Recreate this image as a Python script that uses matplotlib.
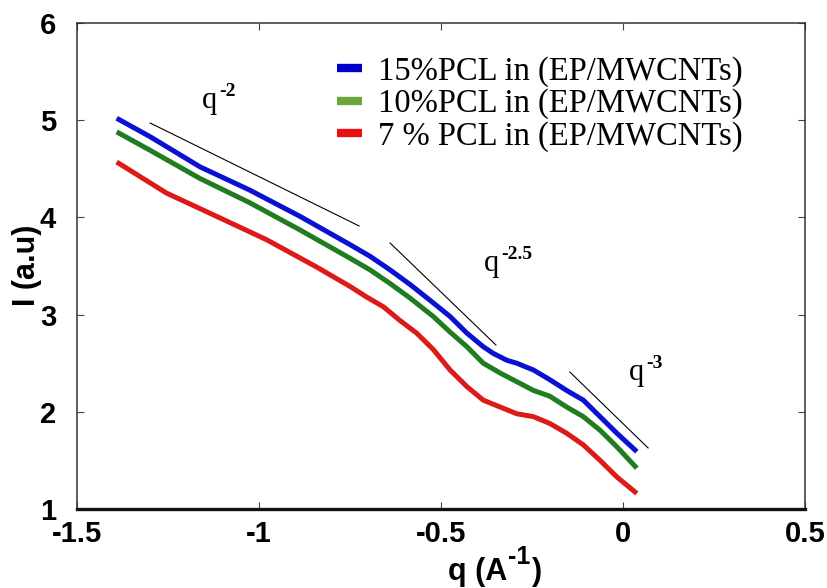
import matplotlib
matplotlib.use('Agg')
import matplotlib.pyplot as plt
from matplotlib.lines import Line2D

plt.rcParams['axes.unicode_minus'] = False

q_blue = [-1.391, -1.299, -1.162, -1.025, -0.887, -0.750, -0.695, -0.640, -0.585, -0.521, -0.475,
          -0.429, -0.384, -0.356, -0.319, -0.292, -0.246, -0.201, -0.155, -0.109, -0.063, -0.017, 0.038]
i_blue = [5.02, 4.83, 4.52, 4.28, 4.01, 3.72, 3.60, 3.46, 3.31, 3.12, 2.98,
          2.81, 2.67, 2.60, 2.53, 2.50, 2.43, 2.33, 2.22, 2.12, 1.95, 1.78, 1.59]

q_green = [-1.391, -1.299, -1.162, -1.025, -0.887, -0.750, -0.695, -0.640, -0.585, -0.521, -0.475,
           -0.429, -0.384, -0.338, -0.292, -0.246, -0.201, -0.155, -0.109, -0.063, -0.017, 0.038]
i_green = [4.88, 4.69, 4.40, 4.15, 3.87, 3.58, 3.46, 3.32, 3.17, 2.98, 2.82,
           2.67, 2.50, 2.40, 2.31, 2.22, 2.16, 2.05, 1.95, 1.81, 1.64, 1.42]

q_red = [-1.391, -1.254, -1.116, -0.979, -0.842, -0.750, -0.704, -0.658, -0.613, -0.567, -0.521,
         -0.475, -0.429, -0.384, -0.338, -0.292, -0.246, -0.201, -0.155, -0.109, -0.063, -0.017, 0.038]
i_red = [4.57, 4.25, 4.01, 3.77, 3.49, 3.29, 3.18, 3.08, 2.94, 2.81, 2.64,
         2.43, 2.26, 2.12, 2.05, 1.98, 1.95, 1.88, 1.78, 1.66, 1.50, 1.33, 1.16]

series_labels = ['15%PCL in (EP/MWCNTs)', '10%PCL in (EP/MWCNTs)', '7 % PCL in (EP/MWCNTs)']

# power-law guide lines
guide_q = [[-1.299, -0.725], [-0.640, -0.349], [-0.146, 0.069]]
guide_i = [[4.971, 3.912], [3.737, 2.687], [2.409, 1.628]]
guide_exp = ['-2', '-2.5', '-3']
guide_text_pos = [(-1.156, 5.125), (-0.382, 3.45), (0.015, 2.327)]

x_ticks = [-1.5, -1, -0.5, 0, 0.5]
x_tick_labels = ['-1.5', '-1', '-0.5', '0', '0.5']
y_ticks = [1, 2, 3, 4, 5, 6]

sans = ['Liberation Sans', 'DejaVu Sans']
serif = ['Liberation Serif', 'DejaVu Serif']

fig = plt.figure(figsize=(8.28, 5.88), dpi=100)
ax = fig.add_axes([77/828, 79/588, 728/828, 486/588])

ax.plot(q_blue, i_blue, color='#0a12d2', lw=3.6, solid_capstyle='butt')
ax.plot(q_green, i_green, color='#1f7d1f', lw=3.6, solid_capstyle='butt')
ax.plot(q_red, i_red, color='#dc1a1a', lw=3.6, solid_capstyle='butt')

for gq, gi in zip(guide_q, guide_i):
    ax.plot(gq, gi, color='black', lw=0.8)

for e, (tx, ty) in zip(guide_exp, guide_text_pos):
    ax.text(tx, ty, 'q', family=serif, fontsize=22, ha='left', va='baseline')
    ax.annotate(e, xy=(tx, ty), xytext=(12.5, 8.5), textcoords='offset points',
                family=serif, fontsize=14, fontweight='bold', ha='left', va='baseline')

# legend (handle colours differ slightly from the lines)
handles = [Line2D([], [], color=c, lw=6, solid_capstyle='butt')
           for c in ['#0000cc', '#6ea53e', '#e81010']]
ax.legend(handles, series_labels, loc='upper left', bbox_to_anchor=(247/728, 1 - 20/486),
          frameon=False, handlelength=0.75, handletextpad=0.5, labelspacing=0.05,
          borderaxespad=0, prop={'family': serif, 'size': 23.5})

ax.set_xlim(-1.5, 0.5)
ax.set_ylim(1, 6)
ax.set_xticks(x_ticks)
ax.set_xticklabels(x_tick_labels)
ax.set_yticks(y_ticks)
ax.tick_params(direction='in', length=5, width=0.8, top=True, right=True, color='#444444')
ax.tick_params(axis='x', pad=8)
ax.tick_params(axis='y', pad=15)
for lab in ax.get_xticklabels() + ax.get_yticklabels():
    lab.set_family(sans)
    lab.set_fontsize(21)
    lab.set_fontweight('bold')

for s in ['left', 'top', 'right']:
    ax.spines[s].set_linewidth(1.1)
    ax.spines[s].set_color('#333333')
ax.spines['bottom'].set_linewidth(2.4)
ax.spines['bottom'].set_color('#111111')

# axis titles
fig.text(27/828, 1 - 265/588, 'I (a.u)', rotation=90, ha='center', va='center',
         family=sans, fontsize=22, fontweight='bold')
fig.text(507/828, 1 - 580/588, 'q (A', ha='right', va='baseline',
         family=sans, fontsize=22, fontweight='bold')
fig.text(508/828, 1 - 564/588, '-1', ha='left', va='baseline',
         family=sans, fontsize=18, fontweight='bold')
fig.text(532/828, 1 - 580/588, ')', ha='left', va='baseline',
         family=sans, fontsize=22, fontweight='bold')

fig.savefig('out.png', dpi=100)
